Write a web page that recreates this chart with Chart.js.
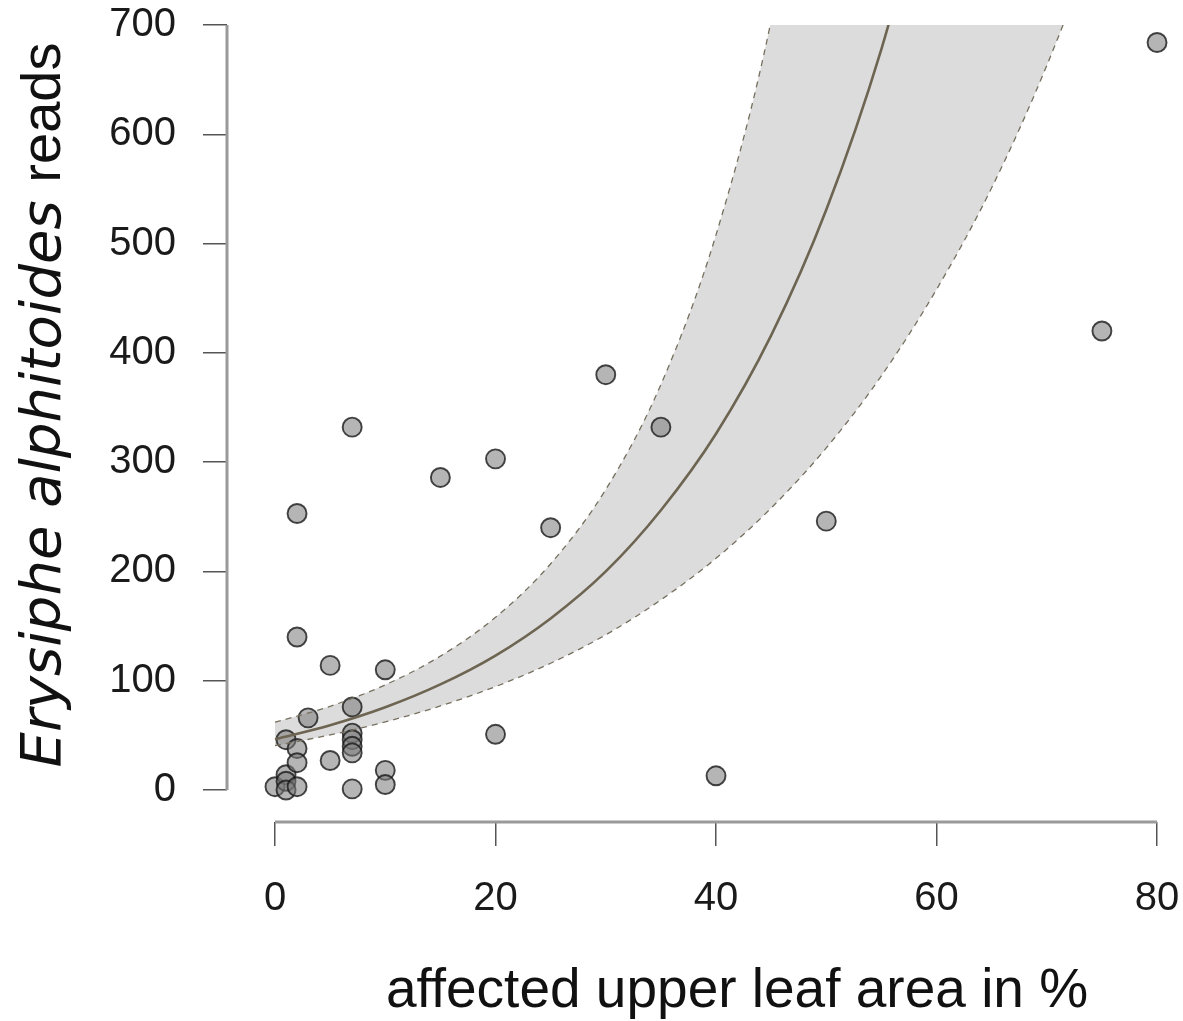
<!DOCTYPE html>
<html>
<head>
<meta charset="utf-8">
<script src="https://cdn.jsdelivr.net/npm/chart.js@4.4.1/dist/chart.umd.min.js"></script>
<style>
  html, body { margin: 0; padding: 0; background: #ffffff; }
  #wrap { width: 1183px; height: 1021px; }
</style>
</head>
<body>
<div id="wrap"><canvas id="c" width="1183" height="1021"></canvas></div>
<script>
// ---- data ----
const xTicks = [0, 20, 40, 60, 80];
const yTicks = [0, 100, 200, 300, 400, 500, 600, 700];

const pointX = [0, 1, 1, 1, 1, 2, 2, 2, 2, 2, 3, 5, 5, 7, 7, 7, 7, 7, 7, 7, 10, 10, 10, 15, 20, 20, 25, 30, 35, 40, 50, 75, 80];
const pointY = [3, 46, 14, 8, 0, 253, 140, 38, 25, 3, 66, 114, 27, 332, 76, 52, 46, 40, 34, 1, 110, 18, 5, 286, 303, 51, 240, 380, 332, 13, 246, 420, 684];

const fitX = [0, 5, 10, 15, 20, 25, 30, 35, 40, 45, 50, 55, 60];
const fitY = [46.5, 59.3, 75.7, 96.6, 123, 157, 200, 256, 326, 416, 531, 678, 864];

const bandX = [0, 5, 10, 15, 20, 25, 30, 35, 40, 45, 50, 55, 60, 65, 70, 75, 80];
const bandUpper = [62, 76.6, 96.2, 122.5, 158, 207, 275, 371, 508, 704, 992, 1417, 2052, 3018, 4500, 6800, 10450];
const bandLower = [40.6, 50.4, 62.3, 76.9, 94.6, 116, 142, 174, 212, 258, 313, 379, 458, 551, 663, 796, 950];

const xTitle = 'affected upper leaf area in %';
const yTitleItalic = 'Erysiphe alphitoides ';
const yTitleRegular = 'reads';

// ---- build datasets ----
const pts = pointX.map((x, i) => ({ x: x, y: pointY[i] }));
const fit = fitX.map((x, i) => ({ x: x, y: fitY[i] }));
const up = bandX.map((x, i) => ({ x: x, y: bandUpper[i] }));
const lo = bandX.map((x, i) => ({ x: x, y: bandLower[i] }));

const axisPlugin = {
  id: 'axisAndTitles',
  afterDraw(chart) {
    const ctx = chart.ctx;
    const xs = chart.scales.x, ys = chart.scales.y;
    const area = chart.chartArea;
    ctx.save();
    ctx.strokeStyle = '#9a9a9a';
    ctx.lineWidth = 3;
    ctx.lineCap = 'butt';
    ctx.beginPath();
    ctx.moveTo(xs.getPixelForValue(xTicks[0]), area.bottom);
    ctx.lineTo(xs.getPixelForValue(xTicks[xTicks.length - 1]), area.bottom);
    ctx.stroke();
    ctx.beginPath();
    ctx.moveTo(area.left, ys.getPixelForValue(yTicks[0]));
    ctx.lineTo(area.left, ys.getPixelForValue(yTicks[yTicks.length - 1]));
    ctx.stroke();

    ctx.fillStyle = '#111111';
    ctx.font = '55px "Liberation Sans"';
    ctx.textAlign = 'center';
    ctx.textBaseline = 'alphabetic';
    ctx.fillText(xTitle, 737, 1007);

    const fItal = 'italic 56px "DejaVu Sans"';
    const fReg = '56px "Liberation Sans"';
    ctx.font = fItal;
    const w1 = ctx.measureText(yTitleItalic).width;
    ctx.font = fReg;
    const w2 = ctx.measureText(yTitleRegular).width;
    const W = w1 + w2;
    ctx.translate(60, 405);
    ctx.rotate(-Math.PI / 2);
    ctx.textAlign = 'left';
    ctx.font = fItal;
    ctx.fillText(yTitleItalic, -W / 2, 0);
    ctx.font = fReg;
    ctx.fillText(yTitleRegular, -W / 2 + w1, 0);
    ctx.restore();
  }
};

new Chart(document.getElementById('c'), {
  type: 'scatter',
  data: {
    datasets: [
      {
        type: 'scatter',
        data: pts,
        pointRadius: 9.5,
        pointHoverRadius: 9.5,
        pointBackgroundColor: 'rgba(120,120,120,0.55)',
        pointBorderColor: 'rgba(25,25,25,0.8)',
        pointBorderWidth: 1.9,
        order: 3,
        clip: false
      },
      {
        type: 'line',
        data: up,
        borderColor: '#76705f',
        borderWidth: 1.3,
        borderDash: [6, 5],
        pointRadius: 0,
        cubicInterpolationMode: 'monotone',
        fill: false,
        order: 2
      },
      {
        type: 'line',
        data: lo,
        borderColor: '#76705f',
        borderWidth: 1.3,
        borderDash: [6, 5],
        pointRadius: 0,
        cubicInterpolationMode: 'monotone',
        fill: { target: 1 },
        backgroundColor: '#dcdcdc',
        order: 2
      },
      {
        type: 'line',
        data: fit,
        borderColor: '#6d6552',
        borderWidth: 2.6,
        pointRadius: 0,
        cubicInterpolationMode: 'monotone',
        fill: false,
        order: 1
      }
    ]
  },
  options: {
    responsive: false,
    animation: false,
    events: [],
    layout: { padding: { top: 25, right: 4, left: 0, bottom: 0 } },
    plugins: {
      legend: { display: false },
      tooltip: { enabled: false },
      filler: { drawTime: 'beforeDatasetsDraw' }
    },
    scales: {
      x: {
        type: 'linear',
        min: -4.354,
        max: 81.32,
        afterBuildTicks: s => { s.ticks = xTicks.map(v => ({ value: v })); },
        afterFit: s => { s.height = 199; s.paddingLeft = 0; s.paddingRight = 0; s.paddingTop = 0; s.paddingBottom = 0; },
        grid: { drawOnChartArea: false, drawTicks: true, tickLength: 24, color: '#555555', lineWidth: 1.5 },
        border: { display: false },
        ticks: {
          font: { family: 'Liberation Sans', size: 40 },
          color: '#1a1a1a',
          padding: 29,
          maxRotation: 0,
          autoSkip: false,
          callback: v => String(v)
        }
      },
      y: {
        type: 'linear',
        min: -29.28,
        max: 700,
        afterBuildTicks: s => { s.ticks = yTicks.map(v => ({ value: v })); },
        afterFit: s => { s.width = 227; s.paddingLeft = 0; s.paddingRight = 0; s.paddingTop = 0; s.paddingBottom = 0; },
        grid: { drawOnChartArea: false, drawTicks: true, tickLength: 24, color: '#555555', lineWidth: 1.5 },
        border: { display: false },
        ticks: {
          font: { family: 'Liberation Sans', size: 40 },
          color: '#1a1a1a',
          padding: 27,
          autoSkip: false,
          callback: v => String(v)
        }
      }
    }
  },
  plugins: [axisPlugin]
});
</script>
</body>
</html>
